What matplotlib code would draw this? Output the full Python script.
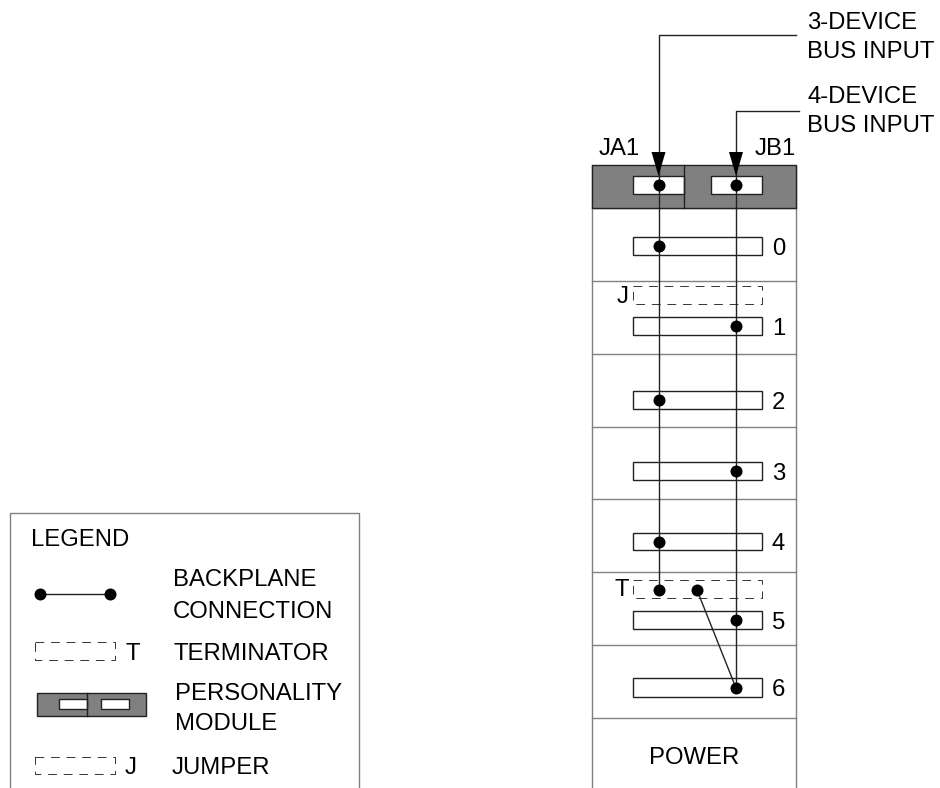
import matplotlib
matplotlib.use("Agg")
import matplotlib.pyplot as plt
from matplotlib.patches import Rectangle, Polygon

plt.rcParams["font.family"] = ["Liberation Sans", "DejaVu Sans"]

# rack geometry (pixels)
rack_left, rack_right = 592, 796
dividers = [208, 281, 354, 427, 499, 572, 645, 718]
slot_labels = ["0", "1", "2", "3", "4", "5", "6"]
slot_top = [237, 317, 391, 462, 533, 611, 678]
slot_bottom = [255, 335, 409, 480, 550, 629, 697]
slot_dot_x = [658.5, 736, 658.5, 736, 658.5, 736, 736]

dash_labels = ["J", "T"]
dash_top = [286, 580]
dash_bottom = [304, 598]

fig = plt.figure(figsize=(9.4, 7.88), dpi=100)
ax = fig.add_axes([0, 0, 1, 1])
ax.set_xlim(0, 940)
ax.set_ylim(788, 0)
ax.axis("off")

LINE = "#222222"
GRAY = "#808080"
FS = 17.2


def box(x0, y0, x1, y1, fc="white", ec=LINE, lw=1.0, ls="-", z=2):
    ax.add_patch(Rectangle((x0, y0), x1 - x0, y1 - y0, fc=fc, ec=ec, lw=lw, ls=ls, zorder=z))


def dashed(x0, y0, x1, y1):
    box(x0, y0, x1, y1, fc="none", ec="#333333", ls=(0, (9, 7)), lw=0.7)


def dot(x, y, r=6):
    ax.plot([x], [y], "o", color="black", ms=r * 1.44, mew=0, zorder=6)


def label(x, y, s, ha="left"):
    ax.text(x, y, s, fontsize=FS, ha=ha, va="center_baseline", color="black", zorder=7)


# rack
ax.plot([rack_left, rack_left], [165, 788], color=GRAY, lw=1.0, zorder=1)
ax.plot([rack_right, rack_right], [165, 788], color=GRAY, lw=1.0, zorder=1)
for y in dividers:
    ax.plot([rack_left, rack_right], [y, y], color=GRAY, lw=1.0, zorder=1)

# personality module on top
box(rack_left, 165, rack_right, 208, fc=GRAY, ec=LINE)
ax.plot([684, 684], [165, 208], color=LINE, lw=1.0, zorder=3)
box(633, 176, 684, 194)
box(711, 176, 762, 194)
dot(658.5, 185)
dot(736, 185)

# slots
for name, top, bottom, dx in zip(slot_labels, slot_top, slot_bottom, slot_dot_x):
    box(633, top, 762, bottom)
    dot(dx, (top + bottom) / 2)
    label(772, (top + bottom) / 2 + 0.5, name)

for name, top, bottom in zip(dash_labels, dash_top, dash_bottom):
    dashed(633, top, 762, bottom)
    label(629, (top + bottom) / 2 - 1, name, ha="right")

dot(658.5, 590)
dot(697, 590)

# bus wiring
ax.plot([796, 658.5, 658.5], [35, 35, 590], color=LINE, lw=1.0, zorder=4)
ax.plot([799, 736, 736], [111, 111, 688], color=LINE, lw=1.0, zorder=4)
ax.plot([697, 736], [590, 688], color=LINE, lw=1.0, zorder=4)
for x in (658.5, 736):
    ax.add_patch(Polygon([(x, 176), (x - 7, 152), (x + 7, 152)], fc="black", ec="none", zorder=6))

label(807, 20, "3-DEVICE")
label(807, 49, "BUS INPUT")
label(807, 94, "4-DEVICE")
label(807, 123, "BUS INPUT")
label(599, 146, "JA1")
label(755, 146, "JB1")
label(694, 756, "POWER", ha="center")

# legend box, open at the bottom
ax.plot([10, 10, 359, 359], [788, 513, 513, 788], color=GRAY, lw=1.0, zorder=1)
label(31, 538, "LEGEND")
label(173, 578, "BACKPLANE")
label(173, 609, "CONNECTION")
label(173, 652, "TERMINATOR")
label(175, 692, "PERSONALITY")
label(175, 722, "MODULE")
label(172, 766, "JUMPER")

ax.plot([40, 110], [594, 594], color=LINE, lw=1.0, zorder=4)
dot(40, 594)
dot(110, 594)

dashed(35, 642, 115, 660)
label(125, 652, "T")
dashed(35, 757, 115, 774)
label(125, 766, "J")

box(37, 693, 146, 716, fc=GRAY)
ax.plot([87, 87], [693, 716], color=LINE, lw=1.0, zorder=3)
box(59, 699, 87, 709)
box(101, 699, 129, 709)

fig.savefig("out.png", dpi=100)
